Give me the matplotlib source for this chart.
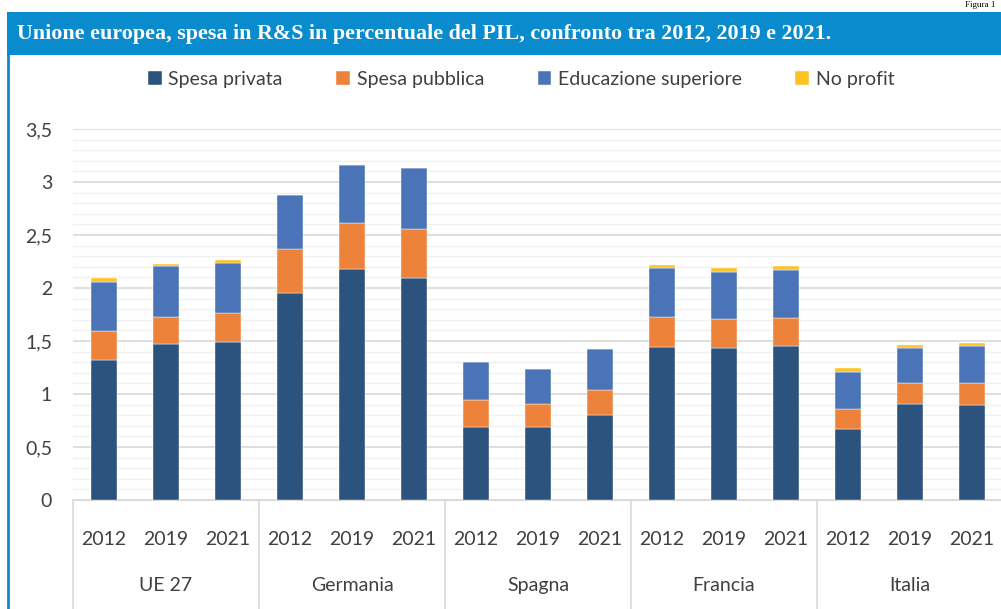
import numpy as np
import matplotlib.pyplot as plt
from matplotlib.patches import Rectangle
from matplotlib.lines import Line2D

# Dati (% del PIL)
countries = ['UE 27', 'Germania', 'Spagna', 'Francia', 'Italia']
years = ['2012', '2019', '2021']

spesa_privata = [1.32, 1.47, 1.49,  1.95, 2.18, 2.09,  0.69, 0.69, 0.80,  1.44, 1.43, 1.45,  0.67, 0.91, 0.90]
spesa_pubblica = [0.27, 0.26, 0.27,  0.42, 0.43, 0.47,  0.25, 0.22, 0.24,  0.29, 0.28, 0.27,  0.19, 0.19, 0.20]
educazione_sup = [0.47, 0.48, 0.48,  0.51, 0.55, 0.57,  0.36, 0.33, 0.38,  0.46, 0.44, 0.45,  0.35, 0.33, 0.35]
no_profit = [0.03, 0.02, 0.02,  0.0, 0.0, 0.0,  0.0, 0.0, 0.0,  0.03, 0.04, 0.04,  0.04, 0.03, 0.03]

series = [
    ('Spesa privata', spesa_privata, '#2c527e'),
    ('Spesa pubblica', spesa_pubblica, '#ed833b'),
    ('Educazione superiore', educazione_sup, '#4b73b8'),
    ('No profit', no_profit, '#fdc324'),
]

W, H = 1001, 609
fig = plt.figure(figsize=(W / 100, H / 100), dpi=100)
fig.patch.set_facecolor('white')

BLUE = '#0a8bcd'
TXT = '#404040'
FONT = 'Lato'

# cornice: barra del titolo e bordo sinistro
fig.patches.append(Rectangle((7 / W, 1 - 55 / H), 1, 43 / H, transform=fig.transFigure,
                             facecolor=BLUE, edgecolor='none', zorder=0))
fig.lines.append(Line2D([8 / W, 8 / W], [0, 1 - 55 / H], transform=fig.transFigure,
                        color=BLUE, lw=2))
fig.text(17 / W, 1 - 34 / H, 'Unione europea, spesa in R&S in percentuale del PIL, confronto tra 2012, 2019 e 2021.',
         color='white', fontsize=15.8, fontweight='bold', family='Liberation Serif', va='center')
fig.text(995 / W, 1 - 1 / H, 'Figura 1', color='black', fontsize=6.5, family='Liberation Serif',
         va='top', ha='right')

ax = fig.add_axes([73 / W, 1 - 500 / H, 930 / W, 371 / H])
n = len(spesa_privata)
x = np.arange(n)
bottom = np.zeros(n)
for name, vals, col in series:
    vals = np.array(vals)
    ax.bar(x, vals, bottom=bottom, width=0.41, color=col, label=name, zorder=3,
           edgecolor='white', linewidth=0.3)
    bottom += vals

ax.set_xlim(-0.5, n - 0.5)
ax.set_ylim(0, 3.5)
ax.set_yticks(np.arange(0, 3.51, 0.5))
ax.set_yticklabels([f'{v:g}'.replace('.', ',') for v in np.arange(0, 3.51, 0.5)],
                   fontsize=14, color=TXT, family=FONT)
ax.set_yticks(np.arange(0, 3.51, 0.1), minor=True)
ax.grid(axis='y', which='major', color='#d9d9d9', lw=1.2, zorder=0)
ax.grid(axis='y', which='minor', color='#f0f0f0', lw=1.0, zorder=0)
ax.tick_params(axis='y', which='both', length=0, pad=15)
ax.set_xticks([])
for s in ['top', 'right', 'left']:
    ax.spines[s].set_visible(False)
ax.spines['bottom'].set_color('#d9d9d9')

# etichette asse x a due livelli
for i in range(n):
    ax.text(i, -0.37, years[i % 3], ha='center', va='center', fontsize=14,
            color=TXT, family=FONT)
for g, c in enumerate(countries):
    ax.text(g * 3 + 1, -0.81, c, ha='center', va='center', fontsize=14,
            color=TXT, family=FONT)
for g in range(len(countries) + 1):
    ax.plot([g * 3 - 0.5] * 2, [0, -1.03], color='#d9d9d9', lw=1.2, clip_on=False)

leg = ax.legend(loc='center', bbox_to_anchor=(0.482, 1 + 50 / 371), ncol=4, frameon=False,
                fontsize=14, handlelength=0.7, handleheight=0.7, handletextpad=0.35,
                columnspacing=2.75)
for t in leg.get_texts():
    t.set_color(TXT)
    t.set_family(FONT)

fig.savefig('out.png', dpi=100)
